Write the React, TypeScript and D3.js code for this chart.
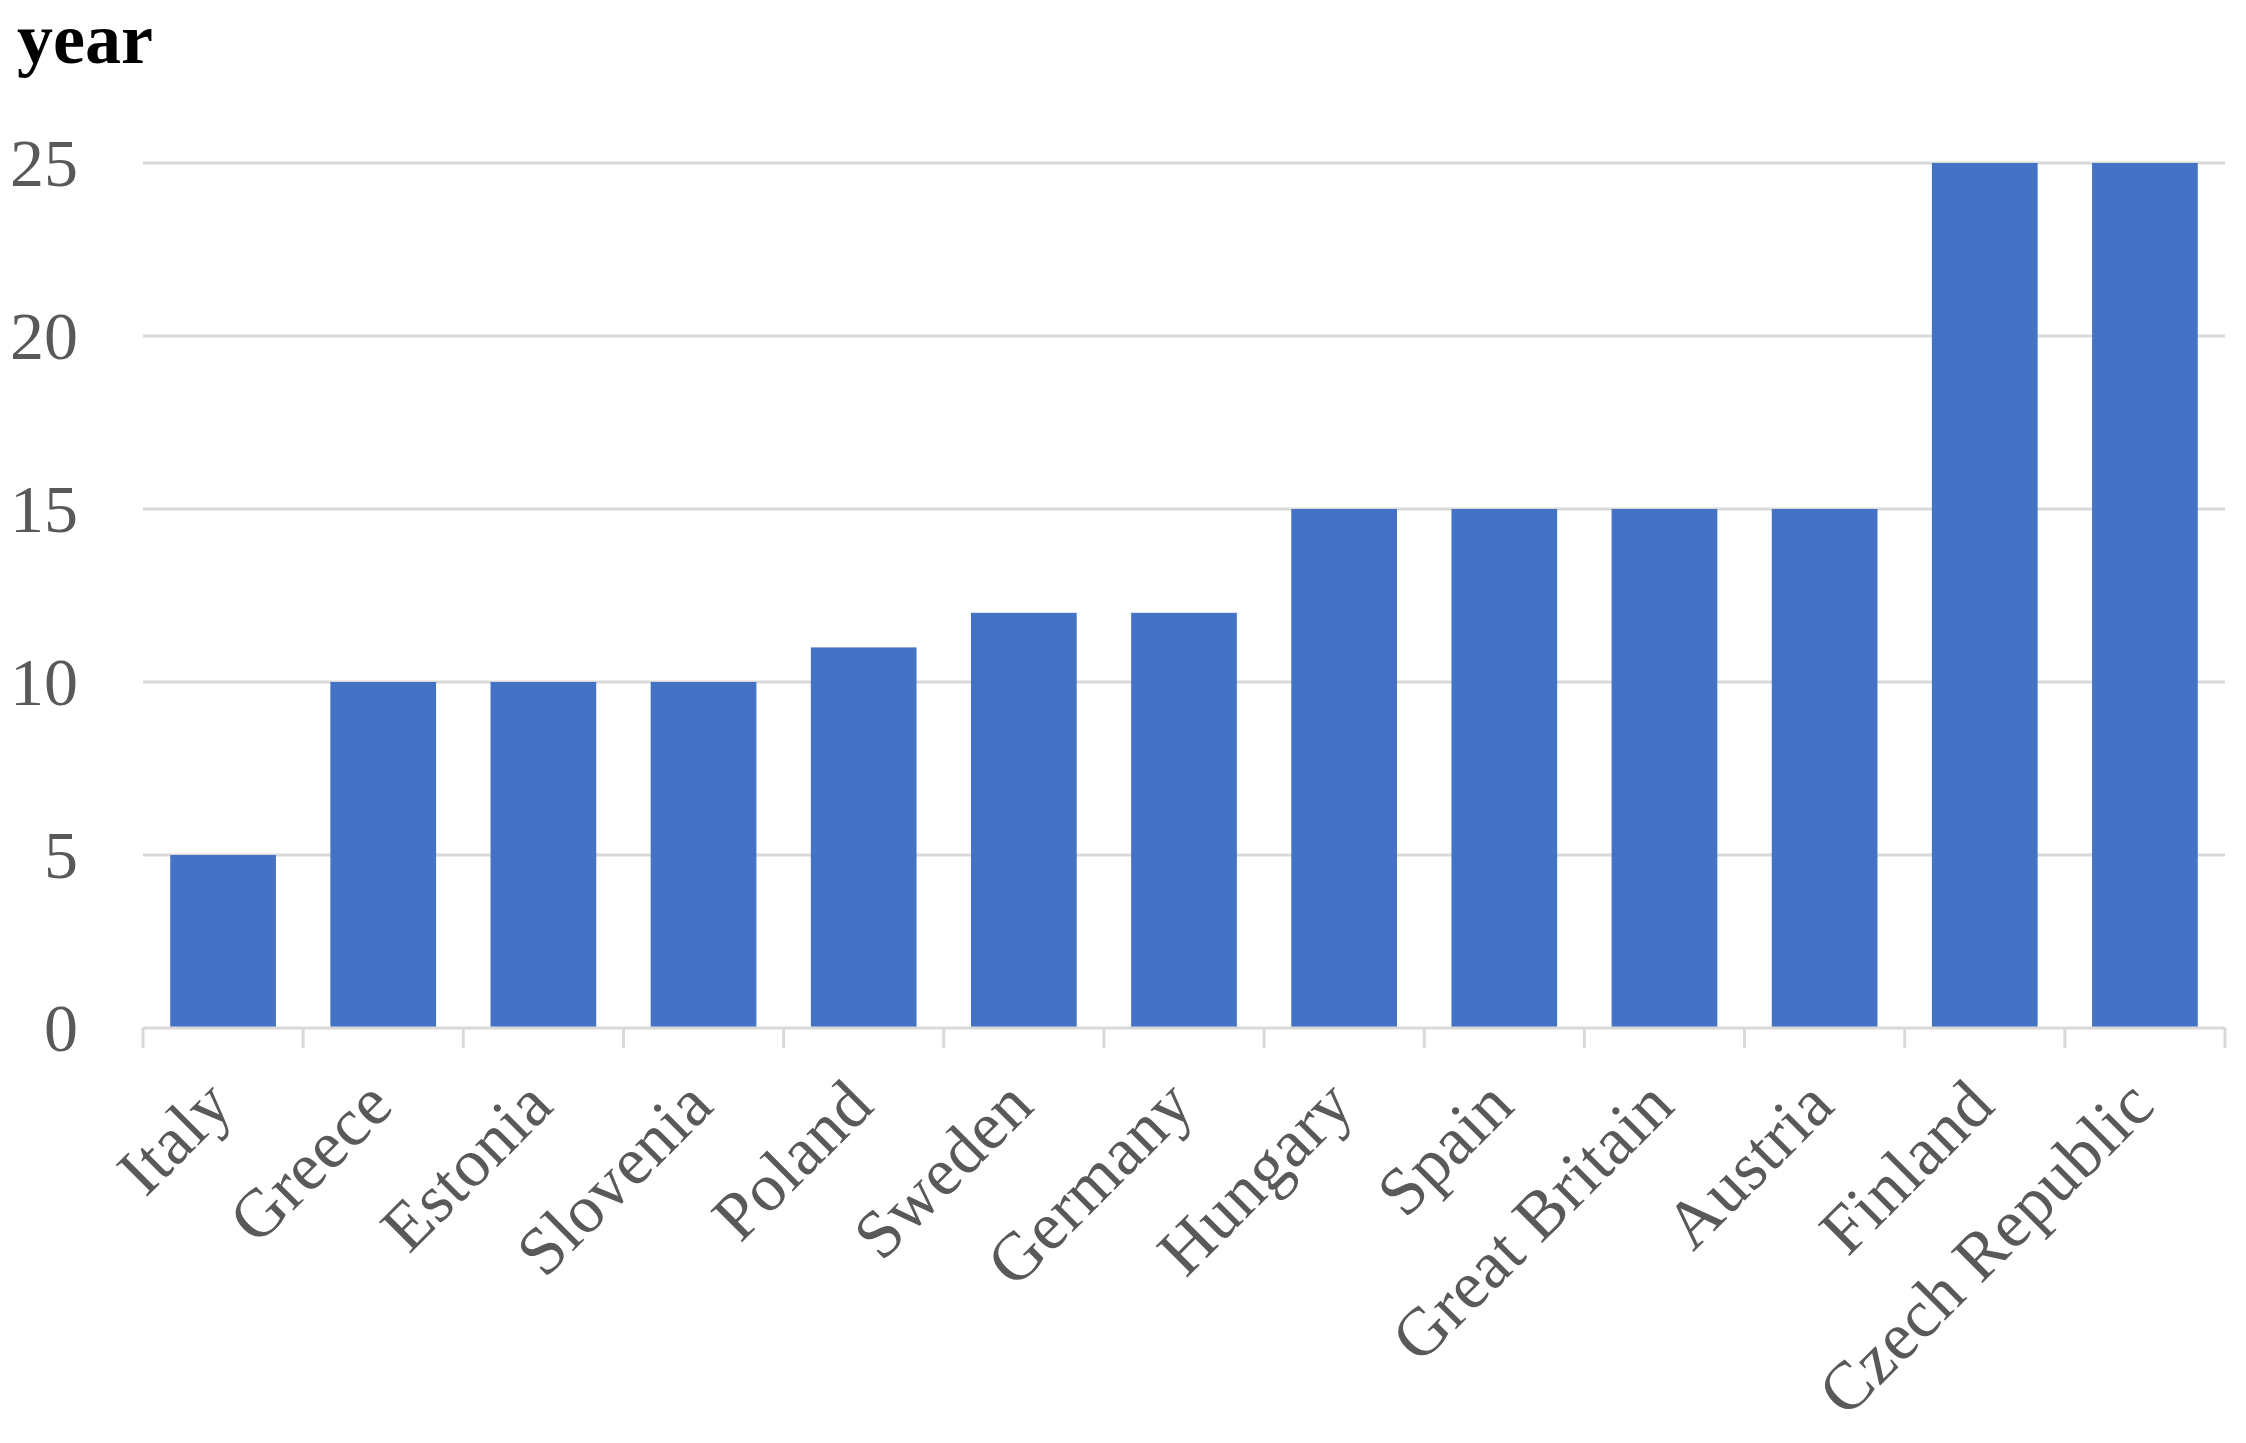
import * as d3 from 'd3';
import React, { useEffect, useRef } from 'react';

const countries = [
    'Italy', 'Greece', 'Estonia', 'Slovenia', 'Poland', 'Sweden', 'Germany',
    'Hungary', 'Spain', 'Great Britain', 'Austria', 'Finland', 'Czech Republic'
];
const years = [5, 10, 10, 10, 11, 12, 12, 15, 15, 15, 15, 25, 25];
const yTicks = [0, 5, 10, 15, 20, 25];

export default function App() {
    const svgRef = useRef<SVGSVGElement | null>(null);

    useEffect(() => {
        document.body.style.margin = '0';
        if (!svgRef.current) return;

        const width = 2246;
        const height = 1443;
        const marginLeft = 143;
        const marginRight = 21;
        const marginTop = 163;
        const baseline = 1028;

        const svg = d3.select(svgRef.current);
        svg.selectAll('*').remove();

        svg.attr('width', width).attr('height', height).attr('viewBox', [0, 0, width, height]);

        const data = countries.map((c, i) => ({ country: c, value: years[i] }));

        const x = d3.scaleBand<string>()
            .domain(countries)
            .range([marginLeft, width - marginRight])
            .paddingInner(0.34)
            .paddingOuter(0.17);

        const y = d3.scaleLinear()
            .domain([0, 25])
            .range([baseline, marginTop]);

        const serif = "'Liberation Serif', 'Times New Roman', serif";

        // gridlines
        svg.append('g')
            .selectAll('line')
            .data(yTicks.filter(d => d > 0))
            .join('line')
            .attr('x1', marginLeft)
            .attr('x2', width - marginRight)
            .attr('y1', d => y(d))
            .attr('y2', d => y(d))
            .attr('stroke', '#d9d9d9')
            .attr('stroke-width', 3);

        // y tick labels
        svg.append('g')
            .selectAll('text')
            .data(yTicks)
            .join('text')
            .attr('x', 78)
            .attr('y', d => y(d))
            .attr('dy', '0.34em')
            .attr('text-anchor', 'end')
            .attr('fill', '#595959')
            .attr('font-family', serif)
            .attr('font-size', 68)
            .text(d => d);

        // bars
        svg.append('g')
            .attr('fill', '#4472C4')
            .selectAll('rect')
            .data(data)
            .join('rect')
            .attr('x', d => x(d.country)!)
            .attr('y', d => y(d.value))
            .attr('width', x.bandwidth())
            .attr('height', d => y(0) - y(d.value));

        // x axis with ticks between categories
        const step = x.step();
        const edges = d3.range(countries.length + 1).map(i => marginLeft + i * step);
        const axis = svg.append('g').attr('stroke', '#d9d9d9').attr('stroke-width', 3);
        axis.append('line')
            .attr('x1', marginLeft)
            .attr('x2', width - marginRight)
            .attr('y1', baseline)
            .attr('y2', baseline);
        axis.selectAll('line.tick')
            .data(edges)
            .join('line')
            .attr('class', 'tick')
            .attr('x1', d => d)
            .attr('x2', d => d)
            .attr('y1', baseline)
            .attr('y2', baseline + 20);

        // rotated category labels
        svg.append('g')
            .selectAll('text')
            .data(countries)
            .join('text')
            .attr('transform', d => `translate(${x(d)! + x.bandwidth() / 2 - 4},${baseline + 64}) rotate(-45)`)
            .attr('text-anchor', 'end')
            .attr('dy', '0.34em')
            .attr('fill', '#595959')
            .attr('font-family', serif)
            .attr('font-size', 68)
            .attr('letter-spacing', 0.5)
            .text(d => d);

        // axis title
        svg.append('text')
            .attr('x', 17)
            .attr('y', 63)
            .attr('fill', '#000')
            .attr('font-family', serif)
            .attr('font-weight', 'bold')
            .attr('font-size', 72)
            .text('year');
    }, []);

    return <svg ref={svgRef} style={{ display: 'block' }}></svg>;
}
